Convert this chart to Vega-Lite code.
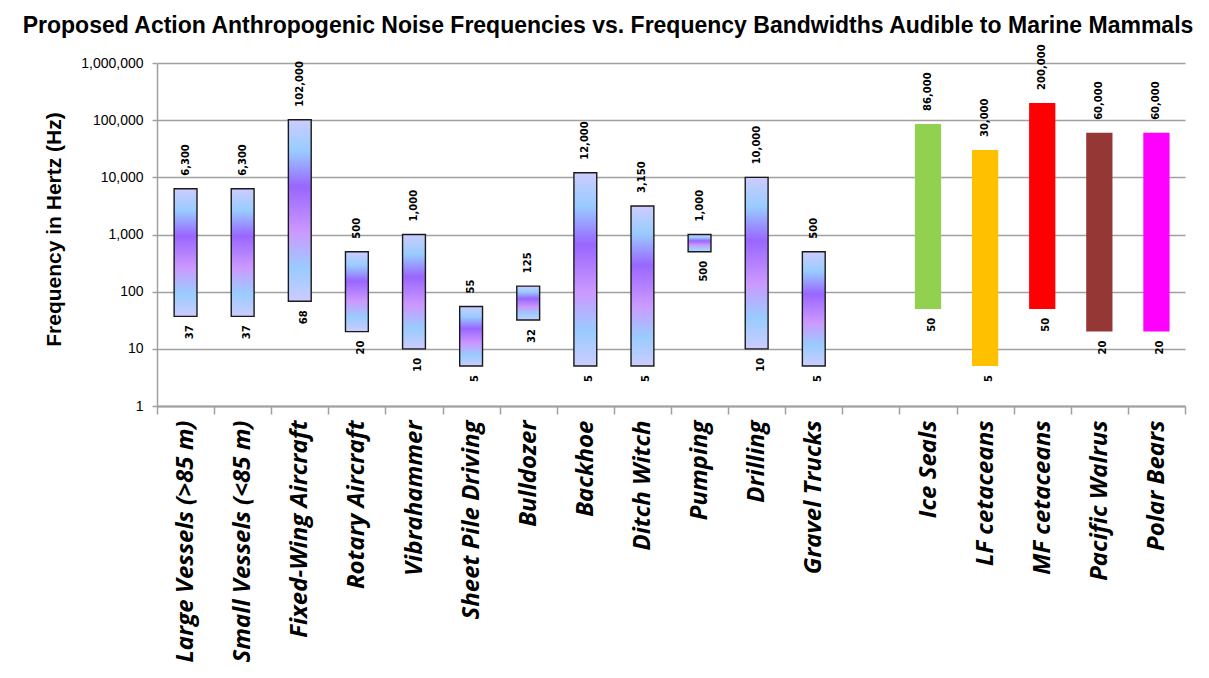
{
  "$schema": "https://vega.github.io/schema/vega-lite/v6.json",
  "autosize": "none",
  "width": 1028,
  "height": 343,
  "padding": {"left": 157, "top": 63, "right": 24, "bottom": 272},
  "background": "white",
  "title": {
    "text": "Proposed Action Anthropogenic Noise Frequencies vs. Frequency Bandwidths Audible to Marine Mammals",
    "font": "Liberation Sans",
    "fontSize": 23,
    "fontWeight": "bold",
    "color": "black",
    "anchor": "middle",
    "frame": "group",
    "dx": -63,
    "baseline": "alphabetic",
    "offset": -12
  },
  "config": {"view": {"stroke": null}},
  "data": {
    "values": [
      {"cat": "Large Vessels (>85 m)", "low": 37, "high": 6300, "group": "anthro"},
      {"cat": "Small Vessels (<85 m)", "low": 37, "high": 6300, "group": "anthro"},
      {"cat": "Fixed-Wing Aircraft", "low": 68, "high": 102000, "group": "anthro"},
      {"cat": "Rotary Aircraft", "low": 20, "high": 500, "group": "anthro"},
      {"cat": "Vibrahammer", "low": 10, "high": 1000, "group": "anthro"},
      {"cat": "Sheet Pile Driving", "low": 5, "high": 55, "group": "anthro"},
      {"cat": "Bulldozer", "low": 32, "high": 125, "group": "anthro"},
      {"cat": "Backhoe", "low": 5, "high": 12000, "group": "anthro"},
      {"cat": "Ditch Witch", "low": 5, "high": 3150, "group": "anthro"},
      {"cat": "Pumping", "low": 500, "high": 1000, "group": "anthro"},
      {"cat": "Drilling", "low": 10, "high": 10000, "group": "anthro"},
      {"cat": "Gravel Trucks", "low": 5, "high": 500, "group": "anthro"},
      {"cat": "Ice Seals", "low": 50, "high": 86000, "group": "mammal"},
      {"cat": "LF cetaceans", "low": 5, "high": 30000, "group": "mammal"},
      {"cat": "MF cetaceans", "low": 50, "high": 200000, "group": "mammal"},
      {"cat": "Pacific Walrus", "low": 20, "high": 60000, "group": "mammal"},
      {"cat": "Polar Bears", "low": 20, "high": 60000, "group": "mammal"}
    ]
  },
  "encoding": {
    "x": {
      "field": "cat",
      "type": "nominal",
      "sort": null,
      "scale": {
        "domain": ["Large Vessels (>85 m)", "Small Vessels (<85 m)", "Fixed-Wing Aircraft", "Rotary Aircraft", "Vibrahammer", "Sheet Pile Driving", "Bulldozer", "Backhoe", "Ditch Witch", "Pumping", "Drilling", "Gravel Trucks", " ", "Ice Seals", "LF cetaceans", "MF cetaceans", "Pacific Walrus", "Polar Bears"],
        "paddingInner": 0,
        "paddingOuter": 0
      },
      "axis": {
        "title": null,
        "labelAngle": 270,
        "labelAlign": "right",
        "labelBaseline": "middle",
        "labelFont": "Open Sans",
        "labelFontStyle": "italic",
        "labelFontWeight": "bold",
        "labelFontSize": 24,
        "labelColor": "black",
        "labelLimit": 400,
        "labelPadding": 6,
        "tickBand": "extent",
        "tickSize": 8,
        "tickColor": "#a0a0a0",
        "tickWidth": 1.5,
        "domainColor": "#a0a0a0",
        "domainWidth": 2,
        "grid": false
      }
    }
  },
  "layer": [
    {
      "transform": [{"filter": "datum.group === 'anthro'"}],
      "mark": {
        "type": "bar",
        "width": {"band": 0.4},
        "stroke": "#1a1a1a",
        "strokeWidth": 1.4,
        "color": {
          "gradient": "linear",
          "x1": 0, "y1": 0, "x2": 0, "y2": 1,
          "stops": [
            {"offset": 0, "color": "#ccccff"},
            {"offset": 0.17, "color": "#99ccff"},
            {"offset": 0.37, "color": "#9966ff"},
            {"offset": 0.62, "color": "#cc99ff"},
            {"offset": 0.82, "color": "#99ccff"},
            {"offset": 1, "color": "#ccccff"}
          ]
        }
      },
      "encoding": {
        "y": {
          "field": "low",
          "type": "quantitative",
          "scale": {"type": "log", "domain": [1, 1000000], "nice": false},
          "axis": {
            "title": "Frequency in Hertz (Hz)",
            "titleFont": "Liberation Sans",
            "titleFontSize": 21,
            "titleFontWeight": "bold",
            "titleColor": "black",
            "titleX": -103,
            "titleY": 166,
            "titleBaseline": "middle",
            "values": [1, 10, 100, 1000, 10000, 100000, 1000000],
            "format": ",d",
            "labelFont": "Liberation Sans",
            "labelFontSize": 14,
            "labelColor": "black",
            "labelPadding": 9,
            "tickSize": 5,
            "tickColor": "#a0a0a0",
            "tickWidth": 1.5,
            "domainColor": "#a0a0a0",
            "domainWidth": 1.5,
            "grid": true,
            "gridColor": "#a0a0a0",
            "gridWidth": 1.6
          }
        },
        "y2": {"field": "high"}
      }
    },
    {
      "transform": [{"filter": "datum.group === 'mammal'"}],
      "mark": {"type": "bar", "width": {"band": 0.46}},
      "encoding": {
        "y": {"field": "low", "type": "quantitative"},
        "y2": {"field": "high"},
        "color": {
          "field": "cat",
          "type": "nominal",
          "scale": {
            "domain": ["Ice Seals", "LF cetaceans", "MF cetaceans", "Pacific Walrus", "Polar Bears"],
            "range": ["#92d050", "#ffc000", "#ff0000", "#953735", "#ff00ff"]
          },
          "legend": null
        }
      }
    },
    {
      "mark": {"type": "text", "angle": 270, "align": "left", "baseline": "middle", "dx": 13, "font": "DejaVu Sans", "fontWeight": "bold", "fontSize": 10, "color": "black"},
      "encoding": {
        "y": {"field": "high", "type": "quantitative"},
        "text": {"field": "high", "type": "quantitative", "format": ",d"}
      }
    },
    {
      "mark": {"type": "text", "angle": 270, "align": "right", "baseline": "middle", "dx": -9, "dy": 4, "font": "DejaVu Sans", "fontWeight": "bold", "fontSize": 10, "color": "black"},
      "encoding": {
        "y": {"field": "low", "type": "quantitative"},
        "text": {"field": "low", "type": "quantitative", "format": ",d"}
      }
    }
  ]
}
